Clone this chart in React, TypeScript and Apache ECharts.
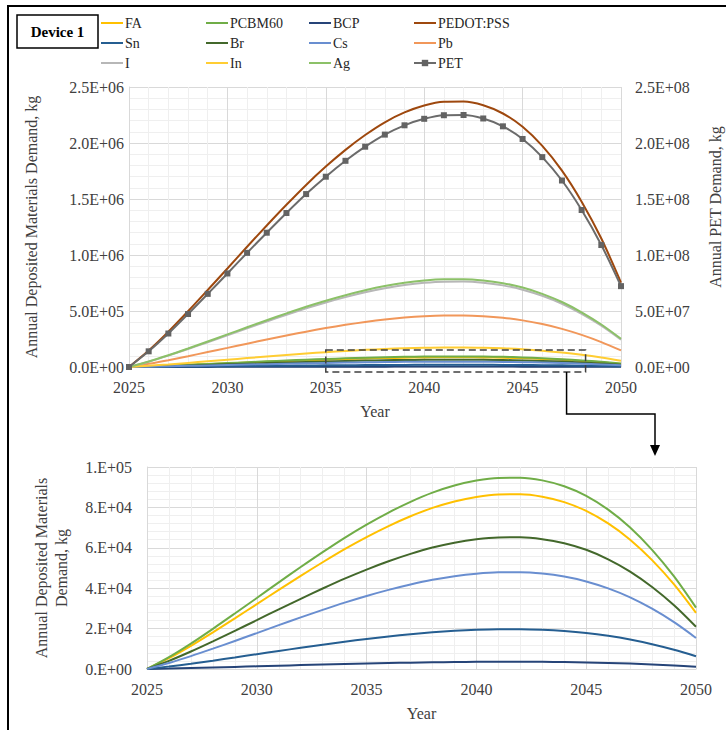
import React, { useEffect, useRef } from "react";
import * as echarts from "echarts";

const years = [2025, 2026, 2027, 2028, 2029, 2030, 2031, 2032, 2033, 2034, 2035, 2036, 2037, 2038, 2039, 2040, 2041, 2042, 2043, 2044, 2045, 2046, 2047, 2048, 2049, 2050];

const FA = [0, 5360, 11500, 18170, 25090, 32090, 39180, 46100, 52850, 59340, 65310, 70760, 75600, 79750, 82950, 85200, 86410, 86500, 85290, 82610, 78280, 72050, 64010, 53890, 41870, 27770];
const PCBM60 = [0, 5870, 12600, 19890, 27460, 35130, 42900, 50480, 57860, 64960, 71500, 77460, 82770, 87310, 90820, 93280, 94610, 94700, 93370, 90440, 85700, 78890, 70080, 59000, 45830, 30400];
const BCP = [0, 223, 479, 756, 1044, 1336, 1631, 1919, 2200, 2470, 2718, 2945, 3146, 3319, 3452, 3546, 3596, 3600, 3550, 3438, 3258, 2999, 2664, 2243, 1742, 1156];
const PEDOT = [0, 146900, 315200, 497700, 687300, 879300, 1073600, 1263200, 1448100, 1625800, 1789400, 1938700, 2071400, 2185100, 2272800, 2334500, 2367600, 2370000, 2336800, 2263400, 2144900, 1974200, 1753800, 1476500, 1147100, 754000];
const Sn = [0, 1220, 2620, 4140, 5710, 7310, 8920, 10500, 12040, 13510, 14870, 16110, 17220, 18160, 18890, 19400, 19680, 19700, 19420, 18810, 17830, 16410, 14580, 12270, 9530, 6320];
const Br = [0, 4040, 8670, 13690, 18910, 24190, 29540, 34750, 39840, 44730, 49230, 53330, 56980, 60110, 62530, 64220, 65130, 65200, 64290, 62270, 59010, 54310, 48250, 40620, 31560, 20930];
const Cs = [0, 2970, 6370, 10060, 13890, 17770, 21700, 25530, 29270, 32860, 36160, 39180, 41860, 44160, 45940, 47180, 47850, 47900, 47230, 45740, 43350, 39900, 35450, 29840, 23180, 15380];
const Pb = [0, 28500, 61200, 96600, 133400, 170700, 208400, 245200, 281100, 315600, 347300, 376300, 402000, 424100, 441100, 453100, 459500, 460000, 453600, 439300, 416300, 383200, 340400, 286600, 222600, 147700];
const I = [0, 47300, 101500, 160200, 221300, 283100, 345600, 406700, 466200, 523400, 576100, 624100, 666900, 703500, 731700, 751600, 762200, 763000, 752300, 728700, 690500, 635600, 564600, 475300, 369300, 244900];
const In = [0, 10850, 23280, 36750, 50750, 64930, 79280, 93280, 106930, 120050, 132130, 143150, 152950, 161350, 167830, 172380, 174830, 175000, 172550, 167130, 158380, 145780, 129500, 109030, 84700, 56180];
const Ag = [0, 48600, 104300, 164600, 227400, 290900, 355200, 417900, 479000, 537800, 591900, 641300, 685200, 722800, 751900, 772200, 783200, 784000, 773000, 748700, 709500, 653100, 580200, 488400, 379500, 251700];
const PET = [0, 14000000, 29900000, 47300000, 65300000, 83500000, 101900000, 119900000, 137500000, 154400000, 169900000, 184100000, 196700000, 207500000, 215800000, 221600000, 224800000, 225000000, 221900000, 214900000, 203600000, 187400000, 166500000, 140200000, 108900000, 72200000];

const topTicksLeft = [0, 500000, 1000000, 1500000, 2000000, 2500000];
const topTicksRight = [0, 50000000, 100000000, 150000000, 200000000, 250000000];
const bottomTicks = [0, 20000, 40000, 60000, 80000, 100000];

const COLORS: Record<string, string> = {
  FA: "#FFC000",
  PCBM60: "#70AD47",
  BCP: "#264478",
  "PEDOT:PSS": "#9E480E",
  Sn: "#255E91",
  Br: "#43682B",
  Cs: "#698ED0",
  Pb: "#F1975A",
  I: "#B7B7B7",
  In: "#FFCD33",
  Ag: "#8CC168",
  PET: "#636363",
};

const FONT = "Liberation Serif";

function sci(v: number, d: number): string {
  if (v === 0) return d === 0 ? "0.E+00" : "0.0E+00";
  const e = Math.floor(Math.log10(Math.abs(v)) + 1e-9);
  const m = v / Math.pow(10, e);
  const ms = d === 0 ? Math.round(m) + "." : m.toFixed(d);
  const es = (e < 0 ? "-" : "+") + String(Math.abs(e)).padStart(2, "0");
  return ms + "E" + es;
}

const pairs = (vals: number[]) => years.map((y, i) => [y, vals[i]]);

export default function App() {
  const ref = useRef<HTMLDivElement>(null);
  useEffect(() => {
    if (!ref.current) return;
    const chart = echarts.init(ref.current, undefined, { renderer: "svg" });

    const mkLine = (name: string, vals: number[], xi: number, yi: number, extra: any = {}) => ({
      type: "line",
      name,
      xAxisIndex: xi,
      yAxisIndex: yi,
      data: pairs(vals),
      smooth: 0.3,
      symbol: "none",
      lineStyle: { width: 2, color: COLORS[name] },
      itemStyle: { color: COLORS[name] },
      z: 3,
      ...extra,
    });

    const topSeries = [
      mkLine("FA", FA, 0, 0),
      mkLine("PCBM60", PCBM60, 0, 0),
      mkLine("BCP", BCP, 0, 0),
      mkLine("PEDOT:PSS", PEDOT, 0, 0),
      mkLine("Sn", Sn, 0, 0),
      mkLine("Br", Br, 0, 0),
      mkLine("Cs", Cs, 0, 0),
      mkLine("Pb", Pb, 0, 0),
      mkLine("I", I, 0, 0),
      mkLine("In", In, 0, 0),
      mkLine("Ag", Ag, 0, 0),
      mkLine("PET", PET, 0, 1, {
        symbol: "rect",
        symbolSize: 6,
        showSymbol: true,
        lineStyle: { width: 2, color: "#6B6B6B" },
        itemStyle: { color: "#636363" },
      }),
    ];
    const bottomSeries = [
      mkLine("FA", FA, 1, 2),
      mkLine("PCBM60", PCBM60, 1, 2),
      mkLine("BCP", BCP, 1, 2),
      mkLine("Sn", Sn, 1, 2),
      mkLine("Br", Br, 1, 2),
      mkLine("Cs", Cs, 1, 2),
    ];

    const axisLabel = { fontFamily: FONT, fontSize: 16, color: "#404040" };
    const nameStyle = { fontFamily: FONT, fontSize: 16, color: "#404040" };
    const split = { show: true, lineStyle: { color: "#D9D9D9", width: 1 } };
    const minorSplit = { show: true, lineStyle: { color: "#EFEFEF", width: 1 } };
    const axisLine = { show: true, lineStyle: { color: "#D9D9D9" } };

    const xAxisCommon = (gi: number) => ({
      type: "value",
      gridIndex: gi,
      min: 2025,
      max: 2050,
      interval: 5,
      axisLine,
      axisTick: { show: false },
      axisLabel: { ...axisLabel, margin: 12, formatter: (v: number) => String(v) },
      splitLine: split,
      minorTick: { show: false, splitNumber: 5 },
      minorSplitLine: minorSplit,
      name: "Year",
      nameLocation: "middle",
      nameGap: 36,
      nameTextStyle: nameStyle,
    });

    const legendCol = (left: number, names: string[]) => ({
      orient: "vertical",
      left,
      top: 16,
      padding: 0,
      itemWidth: 22,
      itemHeight: 8,
      itemGap: 6,
      selectedMode: false,
      itemStyle: { opacity: 0 },
      data: names.map((n) => (n === "PET" ? { name: n, itemStyle: { opacity: 1 } } : { name: n })),
      textStyle: { fontFamily: FONT, fontSize: 14, color: "#262626", padding: [0, 0, 0, -3] },
    });

    const option: any = {
      animation: false,
      backgroundColor: "#ffffff",
      textStyle: { fontFamily: FONT },
      legend: [
        legendCol(100, ["FA", "Sn", "I"]),
        legendCol(205, ["PCBM60", "Br", "In"]),
        legendCol(308, ["BCP", "Cs", "Ag"]),
        legendCol(413, ["PEDOT:PSS", "Pb", "PET"]),
      ],
      grid: [
        { left: 129, top: 87, width: 492, height: 280, outerBoundsMode: "none", containLabel: false },
        { left: 147, top: 467, width: 549, height: 202, outerBoundsMode: "none", containLabel: false },
      ],
      xAxis: [xAxisCommon(0), xAxisCommon(1)],
      yAxis: [
        {
          type: "value",
          gridIndex: 0,
          min: topTicksLeft[0],
          max: topTicksLeft[topTicksLeft.length - 1],
          interval: topTicksLeft[1] - topTicksLeft[0],
          axisLine,
          axisTick: { show: false },
          axisLabel: { ...axisLabel, margin: 5, formatter: (v: number) => sci(v, 1) },
          splitLine: split,
          minorTick: { show: false, splitNumber: 5 },
          minorSplitLine: minorSplit,
          name: "Annual Deposited Materials Demand, kg",
          nameLocation: "middle",
          nameGap: 90,
          nameTextStyle: nameStyle,
        },
        {
          type: "value",
          gridIndex: 0,
          position: "right",
          min: topTicksRight[0],
          max: topTicksRight[topTicksRight.length - 1],
          interval: topTicksRight[1] - topTicksRight[0],
          axisLine: { show: false },
          axisTick: { show: false },
          axisLabel: { ...axisLabel, margin: 14, formatter: (v: number) => sci(v, 1) },
          splitLine: { show: false },
          name: "Annual PET Demand, kg",
          nameLocation: "middle",
          nameGap: 86,
          nameTextStyle: { ...nameStyle, padding: [0, 0, 0, 40] },
        },
        {
          type: "value",
          gridIndex: 1,
          min: bottomTicks[0],
          max: bottomTicks[bottomTicks.length - 1],
          interval: bottomTicks[1] - bottomTicks[0],
          axisLine,
          axisTick: { show: false },
          axisLabel: { ...axisLabel, margin: 15, formatter: (v: number) => sci(v, 0) },
          splitLine: split,
          minorTick: { show: false, splitNumber: 5 },
          minorSplitLine: minorSplit,
          name: "Annual Deposited Materials\nDemand, kg",
          nameLocation: "middle",
          nameGap: 76,
          nameTextStyle: { ...nameStyle, lineHeight: 20 },
        },
      ],
      series: [...topSeries, ...bottomSeries],
    };
    chart.setOption(option);

    const p1 = chart.convertToPixel({ xAxisIndex: 0, yAxisIndex: 0 }, [2035, 152000]) as number[];
    const p2 = chart.convertToPixel({ xAxisIndex: 0, yAxisIndex: 0 }, [2048.2, 0]) as number[];
    const boxX = p1[0];
    const boxY = p1[1];
    const boxW = p2[0] - p1[0];
    const boxH = p2[1] + 5 - p1[1];
    const connX = p2[0] - 19;
    const connY0 = p2[1] + 5;

    chart.setOption({
      graphic: [
        { type: "line", shape: { x1: 8, y1: 6, x2: 8, y2: 730 }, style: { stroke: "#000", lineWidth: 2 }, z: 10 },
        { type: "line", shape: { x1: 7, y1: 6, x2: 726, y2: 6 }, style: { stroke: "#000", lineWidth: 2 }, z: 10 },
        {
          type: "rect",
          shape: { x: 17, y: 15, width: 81, height: 33 },
          style: { fill: "#fff", stroke: "#000", lineWidth: 1.5 },
          z: 10,
        },
        {
          type: "text",
          x: 57.5,
          y: 31.5,
          style: {
            text: "Device 1",
            fontFamily: FONT,
            fontSize: 15,
            fontWeight: "bold",
            fill: "#000",
            align: "center",
            verticalAlign: "middle",
          },
          z: 11,
        },
        {
          type: "rect",
          shape: { x: boxX, y: boxY, width: boxW, height: boxH },
          style: { fill: "none", stroke: "#404040", lineWidth: 1.5, lineDash: [7, 4] },
          z: 10,
        },
        {
          type: "polyline",
          shape: { points: [[connX, connY0], [connX, 414], [655, 414], [655, 446]] },
          style: { stroke: "#000", lineWidth: 1.5, fill: "none" },
          z: 10,
        },
        {
          type: "polygon",
          shape: { points: [[650, 445], [660, 445], [655, 456]] },
          style: { fill: "#000" },
          z: 10,
        },
      ],
    });

    return () => chart.dispose();
  }, []);

  return (
    <div
      ref={ref}
      style={{ position: "absolute", left: 0, top: 0, width: 726, height: 730, background: "#fff" }}
    />
  );
}
